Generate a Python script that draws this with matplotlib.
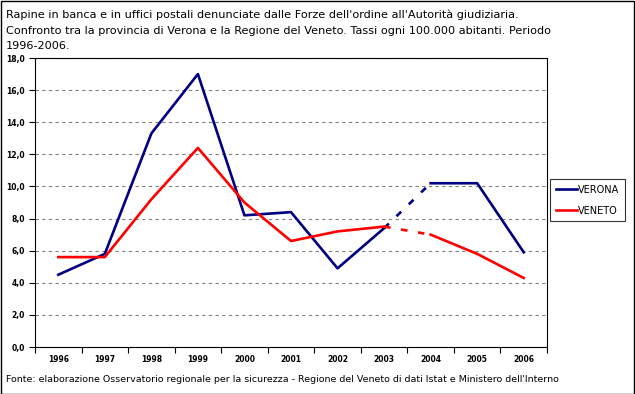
import matplotlib
matplotlib.use("Agg")
import matplotlib.pyplot as plt
from matplotlib.ticker import FuncFormatter, FixedLocator
import numpy as np

years = ["1996", "1997", "1998", "1999", "2000", "2001", "2002", "2003", "2004", "2005", "2006"]
verona = [4.5, 5.8, 13.3, 17.0, 8.2, 8.4, 4.9, 7.4, 10.2, 10.2, 5.9]
veneto = [5.6, 5.6, 9.2, 12.4, 9.0, 6.6, 7.2, 7.5, 7.0, 5.8, 4.3]

fig = plt.figure(figsize=(6.35, 3.94), dpi=100)
ax = fig.add_axes([35/635, 1-347/394, 512/635, 289/394])

x = np.arange(len(years))
gap = years.index("2003")

for vals, col, name in [(verona, "#000080", "VERONA"), (veneto, "#ff0000", "VENETO")]:
    ax.plot(x[:gap+1], vals[:gap+1], color=col, lw=1.9, label=name)
    ax.plot(x[gap:gap+2], vals[gap:gap+2], color=col, lw=1.9, ls=(0, (2.5, 4)))
    ax.plot(x[gap+1:], vals[gap+1:], color=col, lw=1.9)

ax.set_xlim(-0.5, len(years)-0.5)
ax.set_ylim(0, 18)
ax.set_yticks(np.arange(0, 18.1, 2))
ax.yaxis.set_major_formatter(FuncFormatter(lambda v, p: f"{v:.1f}".replace(".", ",")))
ax.set_xticks(x)
ax.set_xticklabels(years)
ax.xaxis.set_minor_locator(FixedLocator(np.arange(-0.5, len(years), 1)))
ax.tick_params(axis="x", which="major", length=0, labelsize=5.5, pad=6)
ax.tick_params(axis="x", which="minor", length=4, direction="out", width=0.8)
ax.tick_params(axis="y", length=4, direction="out", labelsize=5.5, width=0.8)
for lbl in ax.get_xticklabels() + ax.get_yticklabels():
    lbl.set_fontweight("bold")
ax.grid(axis="y", color="#808080", ls=(0, (3, 3)), lw=0.8)
ax.set_axisbelow(True)
for s in ["top", "right"]:
    ax.spines[s].set_visible(False)
for s in ["left", "bottom"]:
    ax.spines[s].set_linewidth(0.8)

ax.plot([1, 1], [0, 1], transform=ax.transAxes, color="#000000", lw=0.8, clip_on=False)
ax.plot([0, 1], [1, 1], transform=ax.transAxes, color="#000000", lw=0.8, clip_on=False)

leg = fig.legend(handles=ax.get_legend_handles_labels()[0][:2], labels=["VERONA", "VENETO"],
                 loc="upper left", bbox_to_anchor=(550/635, 1-179/394), frameon=True,
                 fancybox=False, edgecolor="black", fontsize=7, handlelength=2.2,
                 handletextpad=0.1, borderpad=0.6, labelspacing=1.1, borderaxespad=0)
leg.get_frame().set_linewidth(0.8)

fig.text(6/635, 1-10/394,
         "Rapine in banca e in uffici postali denunciate dalle Forze dell'ordine all'Autorità giudiziaria.\n"
         "Confronto tra la provincia di Verona e la Regione del Veneto. Tassi ogni 100.000 abitanti. Periodo\n"
         "1996-2006.", ha="left", va="top", fontsize=8.1, linespacing=1.65)
fig.text(6/635, 1-380/394,
         "Fonte: elaborazione Osservatorio regionale per la sicurezza - Regione del Veneto di dati Istat e Ministero dell'Interno",
         ha="left", va="center", fontsize=6.8)

border = plt.Rectangle((0.5/635, 0.5/394), 1-1.5/635, 1-1.5/394, transform=fig.transFigure,
                       fill=False, edgecolor="black", lw=1)
fig.add_artist(border)

fig.savefig("out.png", dpi=100)
